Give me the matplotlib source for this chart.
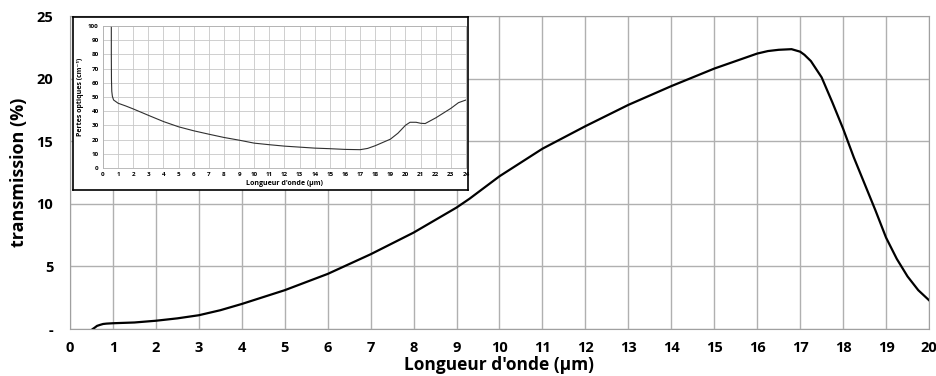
import matplotlib.pyplot as plt
import numpy as np

# transmission spectrum (%)
wl = [0.53, 0.58, 0.63, 0.7, 0.77, 0.85, 1.0, 1.5, 2.0, 2.5, 3.0, 3.5, 4.0, 5.0, 6.0, 7.0,
      8.0, 9.0, 9.3, 10.0, 11.0, 12.0, 13.0, 14.0, 15.0, 16.0, 16.25, 16.5, 16.8, 17.0, 17.1,
      17.25, 17.5, 17.75, 18.0, 18.25, 18.5, 18.75, 19.0, 19.25, 19.5, 19.75, 20.0]
trans = [0.0, 0.12, 0.25, 0.33, 0.4, 0.43, 0.46, 0.52, 0.66, 0.85, 1.1, 1.5, 2.0, 3.1, 4.4, 5.97,
         7.7, 9.7, 10.4, 12.2, 14.4, 16.2, 17.9, 19.4, 20.8, 22.0, 22.2, 22.3, 22.35, 22.15, 21.9,
         21.4, 20.1, 18.1, 16.0, 13.7, 11.6, 9.5, 7.3, 5.6, 4.2, 3.1, 2.3]

# optical losses (cm^-1) for the inset
wl_loss = [0.55, 0.55, 0.56, 0.58, 0.62, 0.7, 1.0, 1.5, 2.0, 3.0, 4.0, 5.0, 6.0, 7.0, 8.0, 9.0,
           10.0, 11.0, 12.0, 13.0, 14.0, 15.0, 16.0, 17.0, 17.5, 18.0, 19.0, 19.5, 20.0,
           20.3, 20.7, 21.0, 21.3, 22.0, 23.0, 23.5, 24.0]
loss = [100, 80, 62, 54, 50.5, 47.9, 45.6, 43.7, 41.6, 37.1, 32.7, 29.0, 26.2, 23.8, 21.5, 19.6,
        17.5, 16.4, 15.4, 14.7, 14.0, 13.6, 13.1, 12.9, 13.8, 15.7, 20.3, 24.5, 30.1,
        32.2, 32.2, 31.5, 31.3, 35.3, 42.0, 46.0, 47.9]

main_ticks_y = [0, 5, 10, 15, 20, 25]
main_labels_y = ["-", "5", "10", "15", "20", "25"]

plt.rcParams['font.family'] = ['Open Sans', 'DejaVu Sans']

fig = plt.figure(figsize=(9.37, 3.76), dpi=100)
ax = fig.add_axes([70 / 937, 47 / 376, 859 / 937, 313 / 376])

ax.plot(wl, trans, color="black", linewidth=1.6, solid_joinstyle="round")
ax.set_xlim(0, 20)
ax.set_ylim(0, 25)
ax.set_xticks(range(0, 21))
ax.set_yticks(main_ticks_y)
ax.set_yticklabels(main_labels_y)
ax.grid(True, color="#b0b0b0", linewidth=1.0)
ax.set_axisbelow(True)
for s in ax.spines.values():
    s.set_color("#a0a0a0")
ax.tick_params(axis="y", length=0, labelsize=10.5, pad=12)
ax.tick_params(axis="x", length=0, labelsize=10.5, pad=9)
for lab in ax.get_xticklabels() + ax.get_yticklabels():
    lab.set_fontweight("bold")
ax.set_xlabel("Longueur d'onde (µm)", fontsize=12.5, fontweight="bold", labelpad=0)
ax.set_ylabel("transmission (%)", fontsize=13, fontweight="bold", labelpad=6)

# inset frame
frame = fig.add_axes([73 / 937, 186 / 376, 395 / 937, 173 / 376])
frame.set_xticks([])
frame.set_yticks([])
frame.set_facecolor("white")
for s in frame.spines.values():
    s.set_color("black")
    s.set_linewidth(1.2)

ins = fig.add_axes([103 / 937, 208 / 376, 363 / 937, 142 / 376])
ins.plot(wl_loss, loss, color="#303030", linewidth=0.8)
ins.set_xlim(0, 24)
ins.set_ylim(0, 100)
ins.set_xticks(range(0, 25))
ins.set_yticks(range(0, 101, 10))
ins.grid(True, color="#c8c8c8", linewidth=0.6)
ins.set_axisbelow(True)
for s in ins.spines.values():
    s.set_color("#b0b0b0")
    s.set_linewidth(0.6)
ins.tick_params(length=0, labelsize=4.5, pad=3)
for lab in ins.get_xticklabels() + ins.get_yticklabels():
    lab.set_fontweight("bold")
ins.set_xlabel("Longueur d'onde (µm)", fontsize=5, fontweight="bold", labelpad=2)
ins.set_ylabel("Pertes optiques (cm⁻¹)", fontsize=5, fontweight="bold", labelpad=3)

fig.savefig("out.png", dpi=100)
